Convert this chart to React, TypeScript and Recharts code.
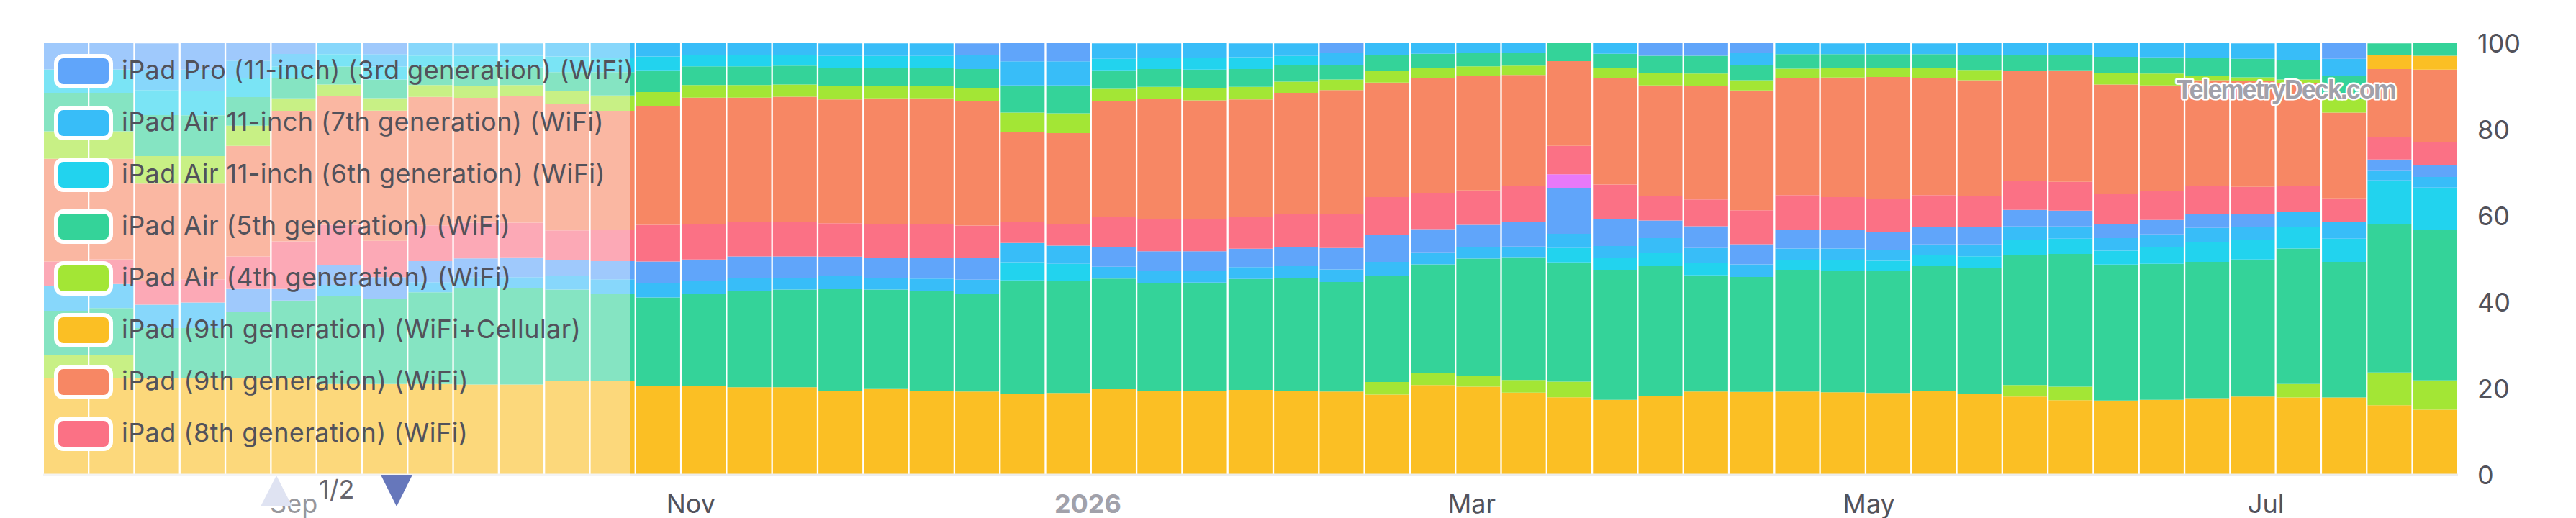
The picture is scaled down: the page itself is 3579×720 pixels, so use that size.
import React from 'react';
import { BarChart, Bar, XAxis, YAxis, Legend } from 'recharts';

// ---------- categories: week starting dates (one bar per week) ----------
const weeks: string[] = [
  '2025-07-28', '2025-08-04', '2025-08-11', '2025-08-18', '2025-08-25',
  '2025-09-01', '2025-09-08', '2025-09-15', '2025-09-22', '2025-09-29',
  '2025-10-06', '2025-10-13', '2025-10-20', '2025-10-27',
  '2025-11-03', '2025-11-10', '2025-11-17', '2025-11-24',
  '2025-12-01', '2025-12-08', '2025-12-15', '2025-12-22', '2025-12-29',
  '2026-01-05', '2026-01-12', '2026-01-19', '2026-01-26',
  '2026-02-02', '2026-02-09', '2026-02-16', '2026-02-23',
  '2026-03-02', '2026-03-09', '2026-03-16', '2026-03-23', '2026-03-30',
  '2026-04-06', '2026-04-13', '2026-04-20', '2026-04-27',
  '2026-05-04', '2026-05-11', '2026-05-18', '2026-05-25',
  '2026-06-01', '2026-06-08', '2026-06-15', '2026-06-22', '2026-06-29',
  '2026-07-06', '2026-07-13', '2026-07-20', '2026-07-27',
];

// ---------- x tick labels ----------
const xTickDates: string[] = ['2025-09-01', '2025-11-01', '2026-01-01', '2026-03-01', '2026-05-01', '2026-07-01'];
const xTickLabels: string[] = ['Sep', 'Nov', '2026', 'Mar', 'May', 'Jul'];
const yTicks: number[] = [0, 20, 40, 60, 80, 100];

// ---------- series (share in %, per week) ----------
const s0 = [6.06, 6.06, 6.12, 6.12, 4.02, 2.49, 0, 2.55, 0, 0, 0, 0, 0, 0, 0, 0, 0, 0, 0, 0, 2.75, 4.21, 4.21, 0, 0, 0, 0, 0, 2.3, 0, 0, 0, 0, 0, 0, 2.91, 2.91, 2.3, 0, 0, 0, 0, 0, 0, 0, 0, 0, 0, 0, 0, 3.6, 0, 0];
const s1 = [0, 0, 4.72, 4.85, 4.02, 2.87, 2.55, 2.87, 2.87, 2.87, 2.87, 3.06, 3.32, 3.06, 2.68, 2.68, 2.68, 2.91, 2.91, 2.91, 3.21, 5.59, 5.59, 3.6, 3.44, 3.44, 3.21, 2.91, 2.68, 2.68, 2.45, 2.3, 2.3, 0, 2.45, 0, 0, 2.68, 2.52, 2.52, 2.52, 2.52, 2.83, 2.83, 2.83, 3.14, 3.29, 3.44, 3.6, 3.83, 3.9, 0, 0];
const s2 = [5.42, 5.42, 5.8, 5.74, 4.46, 2.68, 2.87, 3.0, 2.55, 2.55, 2.74, 3.64, 3.38, 3.21, 2.68, 2.68, 2.53, 2.75, 2.75, 2.75, 0, 0, 0, 2.68, 2.52, 2.68, 2.75, 2.22, 0, 0, 0, 0, 0, 0, 0, 0, 0, 0, 0, 0, 0, 0, 0, 0, 0, 0, 0, 0, 0, 0, 0, 0, 0];
const s3 = [8.93, 8.93, 9.5, 9.44, 6.63, 4.72, 4.15, 4.34, 4.27, 4.46, 4.08, 4.27, 5.42, 5.05, 4.36, 4.36, 4.36, 4.28, 4.28, 4.28, 4.36, 6.27, 6.43, 4.28, 4.13, 4.21, 4.13, 3.75, 3.44, 3.67, 3.29, 3.06, 2.91, 4.13, 3.37, 3.98, 4.13, 3.6, 3.37, 3.29, 3.21, 3.21, 3.37, 3.67, 3.44, 3.75, 3.75, 4.21, 4.28, 4.59, 5.36, 2.75, 2.91];
const s4 = [6.38, 6.38, 6.38, 6.38, 4.66, 2.87, 2.68, 2.87, 2.74, 2.74, 2.61, 3.19, 3.51, 3.29, 2.91, 2.91, 2.83, 3.06, 2.83, 2.83, 2.98, 4.44, 4.59, 2.83, 2.83, 2.91, 2.91, 2.6, 2.45, 2.75, 2.3, 2.22, 2.14, 0, 2.3, 2.91, 2.91, 2.37, 2.22, 2.14, 2.07, 2.3, 2.37, 0, 0, 2.68, 2.75, 0.92, 0.92, 0.77, 3.21, 0, 0];
const s5 = [0, 0, 0, 0, 0, 0, 0, 0, 0, 0, 0, 0, 0, 0, 0, 0, 0, 0, 0, 0, 0, 0, 0, 0, 0, 0, 0, 0, 0, 0, 0, 0, 0, 0, 0, 0, 0, 0, 0, 0, 0, 0, 0, 0, 0, 0, 0, 0, 0, 0, 0, 3.21, 3.21];
const s6 = [23.79, 23.28, 22.45, 22.19, 25.64, 30.29, 29.85, 30.17, 29.78, 28.95, 29.27, 29.21, 27.61, 27.47, 29.3, 28.69, 29.07, 28.69, 29.15, 29.15, 28.92, 20.81, 21.12, 26.93, 27.85, 27.54, 27.31, 28.0, 28.62, 26.55, 26.63, 26.55, 25.78, 19.66, 24.64, 25.63, 26.24, 27.77, 27.08, 27.7, 28.31, 27.16, 26.93, 25.48, 25.86, 25.4, 24.48, 24.56, 24.48, 23.95, 19.89, 15.76, 16.83];
const s7 = [5.68, 5.74, 5.61, 5.36, 7.53, 11.03, 9.25, 8.42, 8.29, 8.29, 8.04, 6.82, 7.27, 8.49, 8.19, 8.11, 7.96, 7.73, 7.8, 7.8, 7.57, 4.97, 4.97, 6.96, 7.42, 7.42, 7.27, 7.65, 7.96, 8.8, 8.42, 7.96, 8.26, 6.58, 8.03, 5.66, 6.2, 7.88, 7.96, 7.65, 7.65, 7.27, 7.12, 6.66, 6.66, 6.89, 6.66, 6.35, 6.2, 5.89, 5.51, 5.2, 5.36];
const s8 = [0, 0, 0, 0, 0, 0, 0, 0, 0, 0, 0, 0, 0, 0, 0, 0, 0, 0, 0, 0, 0, 0, 0, 0, 0, 0, 0, 0, 0, 0, 0, 0, 0, 3.29, 0, 0, 0, 0, 0, 0, 0, 0, 0, 0, 0, 0, 0, 0, 0, 0, 0, 0, 0];
const s9 = [0, 0, 0, 0, 5.23, 2.68, 4.66, 4.97, 4.85, 4.34, 4.59, 3.7, 4.21, 5.05, 4.97, 5.05, 4.9, 4.51, 4.59, 4.82, 4.97, 0, 0, 4.51, 4.59, 4.59, 4.28, 4.51, 4.97, 6.2, 5.36, 5.2, 5.74, 10.48, 6.2, 4.06, 5.05, 4.67, 4.44, 4.28, 4.21, 4.13, 3.98, 3.83, 3.67, 3.29, 3.37, 3.29, 2.98, 0, 0, 2.52, 2.68];
const s10 = [5.74, 5.55, 5.42, 5.93, 0, 0, 2.55, 0, 2.36, 2.55, 2.55, 3.19, 3.32, 3.29, 2.91, 2.91, 2.75, 3.06, 2.75, 2.83, 3.21, 4.44, 4.21, 2.75, 2.83, 2.68, 2.75, 2.83, 2.91, 3.29, 2.83, 2.6, 2.45, 3.29, 2.83, 3.52, 3.52, 2.91, 2.68, 2.75, 2.45, 2.52, 2.75, 3.14, 2.83, 2.91, 2.98, 3.37, 3.14, 3.6, 3.83, 2.3, 2.45];
const s11 = [0, 0, 0, 0, 0, 0, 0, 0, 0, 0, 0, 0, 0, 0, 0, 0, 0, 0, 0, 0, 0, 4.21, 3.98, 0, 0, 0, 0, 0, 0, 0, 0, 0, 0, 3.37, 2.68, 2.98, 2.83, 0, 2.22, 2.3, 2.22, 2.52, 2.68, 3.52, 3.52, 3.21, 3.83, 4.51, 4.51, 4.97, 5.36, 10.18, 9.72];
const s12 = [10.27, 10.91, 11.48, 11.48, 15.5, 18.05, 20.41, 19.77, 21.24, 22.32, 22.32, 21.24, 20.28, 20.43, 21.35, 22.34, 22.65, 23.49, 23.03, 23.11, 22.72, 26.4, 25.94, 25.63, 25.02, 25.1, 25.71, 26.01, 25.4, 24.56, 25.1, 27.16, 28.46, 27.62, 30.15, 30.15, 26.93, 26.63, 28.23, 28.23, 28.39, 28.92, 29.3, 30.07, 30.76, 31.52, 31.52, 31.6, 31.75, 31.37, 31.45, 34.35, 34.97];
const s13 = [5.23, 5.23, 0, 0, 0, 0, 0, 0, 0, 0, 0, 0, 0, 0, 0, 0, 0, 0, 0, 0, 0, 0, 0, 0, 0, 0, 0, 0, 0, 2.91, 2.83, 2.52, 2.91, 3.6, 0, 0, 0, 0, 0, 0, 0, 0, 0, 2.68, 3.14, 0, 0, 0, 0, 3.14, 0, 7.57, 6.81];
const s14 = [22.51, 22.51, 22.51, 22.51, 22.32, 22.32, 21.05, 21.05, 21.05, 20.92, 20.92, 21.68, 21.68, 20.66, 20.66, 20.28, 20.28, 19.51, 19.89, 19.51, 19.28, 18.67, 18.97, 19.82, 19.36, 19.43, 19.66, 19.51, 19.28, 18.59, 20.81, 20.43, 19.05, 17.98, 17.37, 18.21, 19.28, 19.2, 19.28, 19.13, 18.97, 19.43, 18.67, 18.13, 17.29, 17.21, 17.37, 17.75, 18.13, 17.9, 17.9, 16.14, 15.07];

const seriesNames: string[] = [
  'iPad Pro (11-inch) (3rd generation) (WiFi)',
  'iPad Air 11-inch (7th generation) (WiFi)',
  'iPad Air 11-inch (6th generation) (WiFi)',
  'iPad Air (5th generation) (WiFi)',
  'iPad Air (4th generation) (WiFi)',
  'iPad (9th generation) (WiFi+Cellular)',
  'iPad (9th generation) (WiFi)',
  'iPad (8th generation) (WiFi)',
  'iPad mini (6th generation) (WiFi)',
  'iPad Pro (11-inch) (4th generation) (WiFi)',
  'iPad Air 13-inch (7th generation) (WiFi)',
  'iPad (A16) (WiFi)',
  'iPad (10th generation) (WiFi)',
  'iPad mini (A17 Pro) (WiFi)',
  'iPad (10th generation) (WiFi+Cellular)',
];
const seriesValues: number[][] = [s0, s1, s2, s3, s4, s5, s6, s7, s8, s9, s10, s11, s12, s13, s14];
const seriesColors: string[] = [
  '#60a5fa', '#38bdf8', '#22d3ee', '#34d399', '#a3e635', '#fbbf24', '#f78764', '#fb7185', '#e879f9',
  '#60a5fa', '#38bdf8', '#22d3ee', '#34d399', '#a3e635', '#fbbf24',
];
const legendPageCount = 2;
const legendPageSize = 8;

// ---------- build table for the library ----------
const toTime = (d: string) => Date.parse(d + 'T00:00:00Z');
const tableData = weeks.map((w, i) => {
  const row: Record<string, number> = { t: toTime(w) };
  seriesValues.forEach((vals, s) => {
    row['s' + s] = vals[i];
  });
  return row;
});
const HALF_WEEK = 3.5 * 86400000;
const xDomain: [number, number] = [toTime(weeks[0]) - HALF_WEEK, toTime(weeks[weeks.length - 1]) + HALF_WEEK];
const xTicks = xTickDates.map(toTime);

const FONT = 'Inter, "Noto Sans", sans-serif';
const TEXT = '#52525b';

const XTick = (props: any) => {
  const { x, y, payload } = props;
  const idx = xTicks.indexOf(payload.value);
  const label = idx >= 0 ? xTickLabels[idx] : '';
  const isYear = /^\d{4}$/.test(label);
  return (
    <text
      x={x}
      y={y + 53}
      textAnchor="middle"
      fontFamily={FONT}
      fontSize={36}
      fontWeight={isYear ? 700 : 400}
      fill={isYear ? '#a1a1aa' : TEXT}
    >
      {label}
    </text>
  );
};

const LegendOverlay = () => {
  const items = seriesNames.slice(0, legendPageSize);
  return (
    <svg width={3579} height={720} style={{ display: 'block', overflow: 'visible' }}>
      <rect x={20} y={20} width={855} height={700} fill="#ffffff" fillOpacity={0.4} />
      {items.map((name, i) => {
        const cy = 99 + 72 * i;
        return (
          <g key={name}>
            <rect x={78} y={cy - 21} width={76} height={42} rx={10} ry={10} fill={seriesColors[i]} stroke="#ffffff" strokeWidth={6} />
            <text x={169} y={cy + 11} fontFamily={FONT} fontSize={36} letterSpacing={0.45} fill={TEXT}>
              {name}
            </text>
          </g>
        );
      })}
      <polygon points="362,704 406,704 384,661" fill="#dfe3f2" />
      <text x={443} y={693} fontFamily={FONT} fontSize={36} fill="#66666e">
        {`1/${legendPageCount}`}
      </text>
      <polygon points="529,660 573,660 551,704" fill="#6677bb" />
      <text
        x={3176}
        y={137}
        textAnchor="middle"
        fontFamily='"Liberation Sans", Arial, sans-serif'
        fontWeight={700}
        fontSize={36}
        letterSpacing={-2}
        fill="#a1a1aa"
        stroke="#ffffff"
        strokeWidth={5}
        strokeLinejoin="round"
        style={{ paintOrder: 'stroke' }}
      >
        TelemetryDeck.com
      </text>
    </svg>
  );
};

export default function App() {
  const stackOrder = seriesValues.map((_, i) => i).reverse();
  return (
    <div style={{ position: 'absolute', left: 0, top: 0, width: 3579, height: 720, background: '#ffffff' }}>
      <BarChart
        width={3579}
        height={720}
        data={tableData}
        margin={{ top: 60, right: 0, bottom: 0, left: 60 }}
        barCategoryGap={1}
      >
        <XAxis
          dataKey="t"
          type="number"
          domain={xDomain}
          ticks={xTicks}
          interval={0}
          height={60}
          tickLine={false}
          tickSize={0}
          tickMargin={0}
          axisLine={{ stroke: '#ededed', strokeWidth: 3 }}
          tick={<XTick />}
        />
        <YAxis
          orientation="right"
          width={164}
          domain={[0, 100]}
          ticks={yTicks}
          interval={0}
          axisLine={false}
          tickLine={false}
          tickSize={0}
          tickMargin={27}
          tick={{ fill: TEXT, fontSize: 36, fontFamily: FONT }}
        />
        <Legend
          layout="horizontal"
          verticalAlign="middle"
          align="center"
          content={<LegendOverlay />}
          wrapperStyle={{ left: 0, top: 0, width: 3579, height: 720, pointerEvents: 'none' }}
        />
        {stackOrder.map((s) => (
          <Bar
            key={s}
            dataKey={'s' + s}
            name={seriesNames[s]}
            stackId="share"
            fill={seriesColors[s]}
            isAnimationActive={false}
          />
        ))}
      </BarChart>
    </div>
  );
}
